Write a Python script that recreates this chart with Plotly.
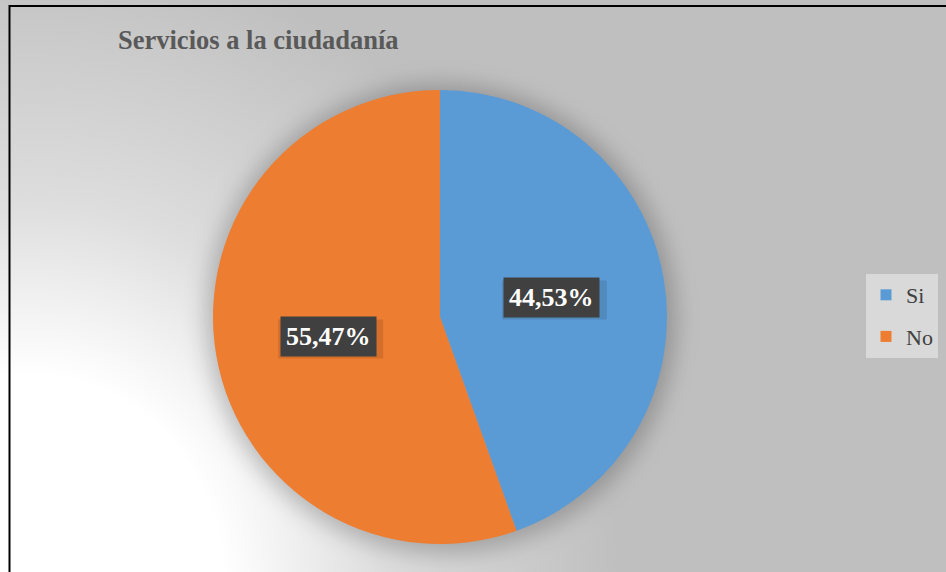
import base64
import math
import plotly.graph_objects as go

# Chart data
labels = ["Si", "No"]
values = [44.53, 55.47]
colors = ["#5b9bd5", "#ed7d31"]
title_text = "Servicios a la ciudadanía"

W, H = 946, 572
CX, CY, R = 440, 317, 227  # pie centre and radius in pixels
SERIF = "Liberation Serif, Times New Roman, serif"

# Soft background: radial light patch in the lower-left corner plus a blurred halo behind the pie
svg = f"""<svg xmlns='http://www.w3.org/2000/svg' width='{W}' height='{H}' viewBox='0 0 {W} {H}'>
<defs>
<radialGradient id='g' gradientUnits='userSpaceOnUse' cx='30' cy='590' r='620'
 gradientTransform='translate(30 590) scale(0.95 1.05) translate(-30 -590)'>
<stop offset='0' stop-color='#ffffff'/>
<stop offset='0.33' stop-color='#ffffff'/>
<stop offset='0.45' stop-color='#f0f0f0'/>
<stop offset='0.6' stop-color='#dddddd'/>
<stop offset='0.8' stop-color='#cecece'/>
<stop offset='1' stop-color='#bfbfbf'/>
</radialGradient>
<filter id='b' x='-30%' y='-30%' width='160%' height='160%'>
<feGaussianBlur stdDeviation='11'/>
</filter>
</defs>
<rect width='{W}' height='{H}' fill='#bfbfbf'/>
<rect width='{W}' height='{H}' fill='url(#g)'/>
<circle cx='{CX + 1}' cy='{CY + 2}' r='{R + 8}' fill='#000' fill-opacity='0.22' filter='url(#b)'/>
</svg>"""
bg_src = "data:image/svg+xml;base64," + base64.b64encode(svg.encode("utf-8")).decode("ascii")

fig = go.Figure()

fig.add_trace(go.Pie(
    labels=labels,
    values=values,
    sort=False,
    direction="clockwise",
    rotation=0,
    marker=dict(colors=colors, line=dict(width=0)),
    textinfo="none",
    hoverinfo="label+percent",
    showlegend=False,
    domain=dict(x=[(CX - R) / W, (CX + R) / W], y=[1 - (CY + R) / H, 1 - (CY - R) / H]),
))

# Legend entries (one group per category so the rows can be spaced apart)
for lab, col in zip(labels, colors):
    fig.add_trace(go.Scatter(
        x=[None], y=[None], mode="markers", name=lab,
        marker=dict(symbol="square", size=11, color=col),
        legendgroup=lab, showlegend=True, hoverinfo="skip",
    ))

# Percentage labels placed halfway out along each slice's bisector
total = sum(values)
cum = 0.0
annotations = []
shapes = []
for v in values:
    mid = (cum + v / 2) / total
    cum += v
    th = 2 * math.pi * mid
    px = CX + 0.5 * R * math.sin(th)
    py = CY - 0.5 * R * math.cos(th)
    # faint drop shadow behind the label box
    shapes.append(dict(
        type="rect", xref="paper", yref="paper",
        x0=(px - 50) / W, x1=(px + 55) / W, y0=1 - (py + 22) / H, y1=1 - (py - 17) / H,
        fillcolor="rgba(0,0,0,0.11)", line=dict(width=0), layer="above",
    ))
    annotations.append(dict(
        x=px / W, y=1 - py / H, xref="paper", yref="paper",
        text="<b>" + f"{v:.2f}".replace(".", ",") + "%</b>",
        showarrow=False,
        font=dict(family=SERIF, size=26, color="white"),
        bgcolor="#404040", borderpad=5,
    ))

annotations.append(dict(
    x=116 / W, y=1 - 40 / H, xref="paper", yref="paper",
    xanchor="left", yanchor="middle",
    text=f"<b>{title_text}</b>", showarrow=False,
    font=dict(family=SERIF, size=26.5, color="#595959"),
))

shapes += [
    dict(type="line", xref="paper", yref="paper", x0=9 / W, x1=1, y0=1 - 6 / H, y1=1 - 6 / H,
         line=dict(color="#000000", width=2)),
    dict(type="line", xref="paper", yref="paper", x0=9.5 / W, x1=9.5 / W, y0=0, y1=1 - 5 / H,
         line=dict(color="#000000", width=2)),
]

fig.update_layout(
    width=W, height=H,
    margin=dict(l=0, r=0, t=0, b=0),
    paper_bgcolor="#bfbfbf",
    plot_bgcolor="rgba(0,0,0,0)",
    xaxis=dict(visible=False),
    yaxis=dict(visible=False),
    images=[dict(
        source=bg_src, xref="paper", yref="paper", x=0, y=1,
        sizex=1, sizey=1, xanchor="left", yanchor="top",
        sizing="stretch", layer="below",
    )],
    annotations=annotations,
    legend=dict(
        x=866 / W, y=1 - 274 / H, xanchor="left", yanchor="top",
        bgcolor="#d9d9d9", font=dict(family=SERIF, size=22, color="#404040"),
        tracegroupgap=10, itemwidth=30,
    ),
    shapes=shapes,
)

fig.write_html("out.html")
